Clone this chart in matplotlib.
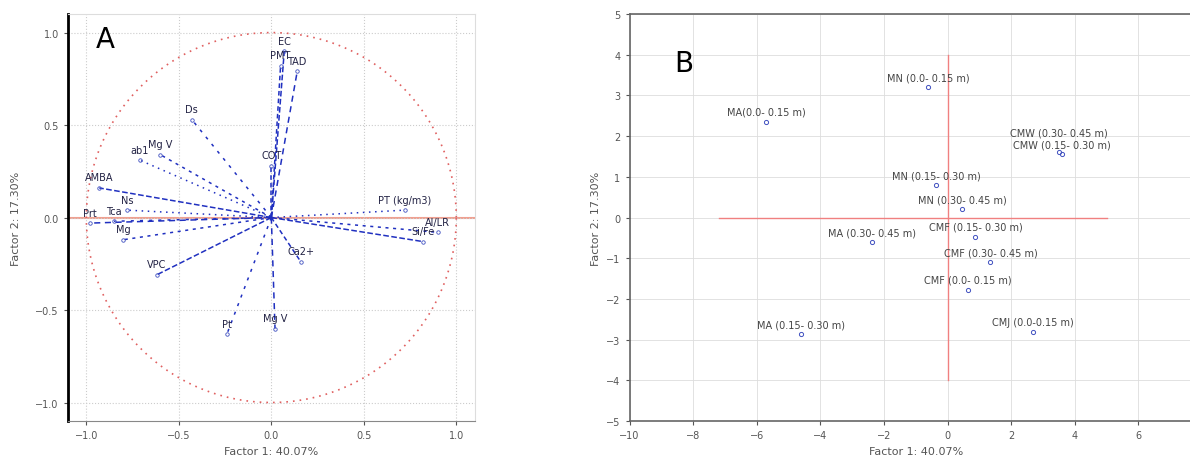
import numpy as np
import matplotlib.pyplot as plt

# Panel A: loadings (Factor 1, Factor 2)
var_names = ["EC", "PMT", "TAD", "Ds", "ab1", "Mg V", "AMBA", "COT", "Prt", "Tca",
             "Ns", "Mg", "VPC", "Ca2+", "Mg V", "Pt", "PT (kg/m3)", "Al/LR", "Si/Fe"]
var_x = [0.07, 0.05, 0.14, -0.43, -0.71, -0.60, -0.93, 0.00, -0.98, -0.85,
         -0.78, -0.80, -0.62, 0.16, 0.02, -0.24, 0.72, 0.90, 0.82]
var_y = [0.90, 0.82, 0.79, 0.53, 0.31, 0.34, 0.16, 0.28, -0.03, -0.02,
         0.04, -0.12, -0.31, -0.24, -0.60, -0.63, 0.04, -0.08, -0.13]

# Panel B: scores
site_names = ["MN (0.0- 0.15 m)", "MA(0.0- 0.15 m)", "CMW (0.30- 0.45 m)", "CMW (0.15- 0.30 m)",
              "MN (0.15- 0.30 m)", "MN (0.30- 0.45 m)", "CMF (0.15- 0.30 m)", "MA (0.30- 0.45 m)",
              "CMF (0.30- 0.45 m)", "CMF (0.0- 0.15 m)", "CMJ (0.0-0.15 m)", "MA (0.15- 0.30 m)"]
site_x = [-0.6, -5.7, 3.5, 3.6, -0.35, 0.47, 0.88, -2.36, 1.35, 0.63, 2.7, -4.62]
site_y = [3.2, 2.36, 1.6, 1.55, 0.8, 0.2, -0.47, -0.6, -1.1, -1.77, -2.82, -2.87]

xlab = "Factor 1: 40.07%"
ylab = "Factor 2: 17.30%"

fig = plt.figure(figsize=(11.9, 4.64), dpi=100)

# ---- A ----
ax1 = fig.add_axes([0.057, 0.0905, 0.342, 0.877])
ax1.set_xlim(-1.1, 1.1)
ax1.set_ylim(-1.1, 1.1)
ax1.set_xticks([-1.0, -0.5, 0.0, 0.5, 1.0])
ax1.set_yticks([-1.0, -0.5, 0.0, 0.5, 1.0])
ax1.grid(True, color="#cccccc", linestyle=":", linewidth=0.8)
t = np.linspace(0, 2 * np.pi, 200)
ax1.plot(np.cos(t), np.sin(t), color="#e06060", linestyle=(0, (1, 3)), linewidth=1.2)
ax1.axhline(0, color="#f0a090", linewidth=1.5, zorder=1)
styles = ["--", (0, (3, 2)), (0, (4, 3)), (0, (2, 4)), (0, (1, 3)), (0, (2, 3))]
for i, (n, x, y) in enumerate(zip(var_names, var_x, var_y)):
    ax1.plot([0, x], [0, y], color="#2030c0", linestyle=styles[i % len(styles)], linewidth=1.1)
    ax1.plot(x, y, "o", ms=2.5, mfc="none", mec="#4050c0", mew=0.6)
    ax1.text(x, y + 0.03, n, fontsize=7, color="#222244", ha="center", va="bottom")
ax1.text(-0.95, 0.92, "A", fontsize=20)
ax1.set_xlabel(xlab, fontsize=8, color="#555555")
ax1.set_ylabel(ylab, fontsize=8, color="#555555", labelpad=10)
ax1.tick_params(labelsize=7, colors="#555555", length=3)
ax1.spines["left"].set_linewidth(2)
ax1.spines["top"].set_color("#dddddd")
ax1.spines["right"].set_color("#dddddd")
ax1.spines["bottom"].set_color("#888888")

# ---- B ----
ax2 = fig.add_axes([0.529, 0.0905, 0.481, 0.877])
ax2.set_xlim(-10, 8)
ax2.set_ylim(-5, 5)
ax2.set_xticks(range(-10, 8, 2))
ax2.set_yticks(range(-5, 6))
ax2.grid(True, color="#dddddd", linestyle="-", linewidth=0.6)
ax2.plot([-7.2, 5.0], [0, 0], color="#f08080", linewidth=1)
ax2.plot([0, 0], [-4, 4], color="#f08080", linewidth=1)
ax2.plot(site_x, site_y, "o", ms=3, mfc="none", mec="#4050c0", mew=0.7, linestyle="none")
for i, (n, x, y) in enumerate(zip(site_names, site_x, site_y)):
    dy = 0.12
    if i == 2:
        dy = 0.36
    ax2.text(x, y + dy, n, fontsize=7, color="#444444", ha="center", va="bottom")
ax2.text(-8.6, 3.6, "B", fontsize=20)
ax2.set_xlabel(xlab, fontsize=8, color="#555555")
ax2.set_ylabel(ylab, fontsize=8, color="#555555")
ax2.tick_params(labelsize=7, colors="#555555", length=3)
for s in ["left", "top", "bottom"]:
    ax2.spines[s].set_color("#666666")
    ax2.spines[s].set_linewidth(1.2)

fig.savefig("out.png", dpi=100)
